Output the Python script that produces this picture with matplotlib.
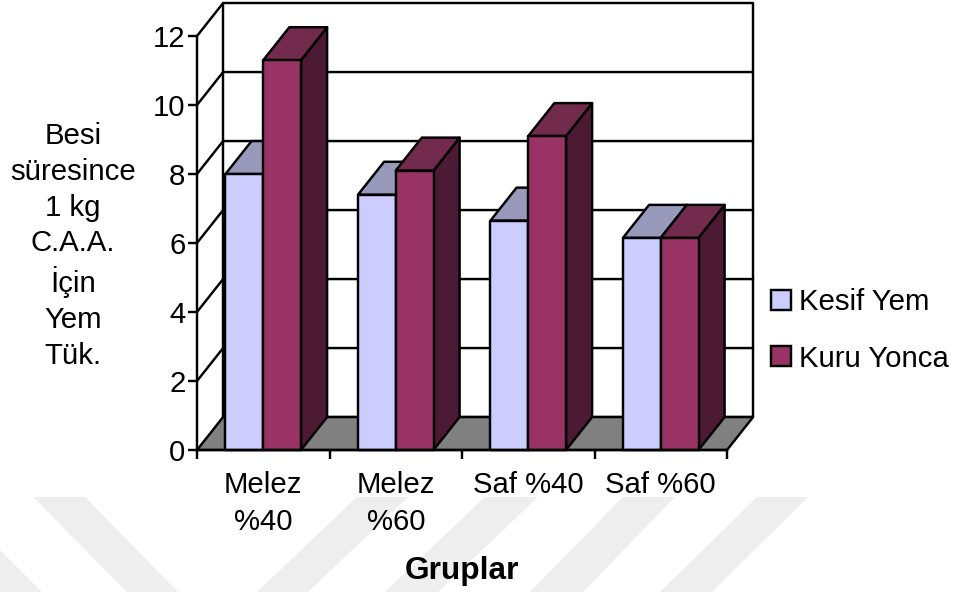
import matplotlib
matplotlib.use("Agg")
import matplotlib.pyplot as plt
from matplotlib.patches import Patch, Polygon

plt.rcParams['font.family'] = ['Liberation Sans', 'DejaVu Sans']

groups = ["Melez\n%40", "Melez\n%60", "Saf %40", "Saf %60"]
kesif_yem = [8.0, 7.4, 6.65, 6.15]
kuru_yonca = [11.3, 8.1, 9.1, 6.15]
series_names = ["Kesif Yem", "Kuru Yonca"]
y_ticks = [0, 2, 4, 6, 8, 10, 12]

W, H = 957, 592
LW = 1.75
FS = 21.2
DX = 0.197   # depth of the 3d box, x units
DY = 0.955   # depth of the 3d box, y units
BAR_W = 0.285
BAR_START = 0.215

KESIF = ("#ccccff", "#9999bb", "#666680")  # front, top, side
KURU = ("#993366", "#732b4d", "#4d1a33")

fig = plt.figure(figsize=(W / 100, H / 100), dpi=100, facecolor="white")

# pale diagonal bands behind the chart
bands = [
    [(0, 550), (42, 592), (0, 592)],
    [(33, 497), (85, 497), (178, 592), (127, 592)],
    [(357, 497), (408, 497), (308, 592), (257, 592)],
    [(485, 497), (538, 497), (438, 592), (385, 592)],
    [(623, 497), (675, 497), (583, 592), (530, 592)],
    [(757, 497), (808, 497), (712, 592), (660, 592)],
]
for b in bands:
    pts = [(x / W, 1 - y / H) for x, y in b]
    fig.patches.append(Polygon(pts, closed=True, facecolor="#eeeeee", edgecolor="none",
                               transform=fig.transFigure, zorder=-5))

ax = fig.add_axes([197 / W, (H - 450) / H, 530 / W, 414 / H])
ax.patch.set_alpha(0)
ax.set_xlim(0, len(groups))
ax.set_ylim(0, 12)


def poly(pts, color, z):
    ax.add_patch(Polygon(pts, closed=True, facecolor=color, edgecolor="black", linewidth=LW,
                         joinstyle="round", clip_on=False, zorder=z))


def line(xs, ys, z=2):
    ax.plot(xs, ys, color="black", lw=LW, clip_on=False, zorder=z, solid_capstyle="round")


def bar3d(x, v, cols, z):
    poly([(x + BAR_W, 0), (x + BAR_W + DX, DY), (x + BAR_W + DX, v + DY), (x + BAR_W, v)], cols[2], z)
    poly([(x, v), (x + DX, v + DY), (x + BAR_W + DX, v + DY), (x + BAR_W, v)], cols[1], z)
    poly([(x, 0), (x + BAR_W, 0), (x + BAR_W, v), (x, v)], cols[0], z)


n = len(groups)
ymax = y_ticks[-1]

# back wall, floor and the lines running around the box
poly([(DX, DY), (n + DX, DY), (n + DX, ymax + DY), (DX, ymax + DY)], "white", 1)
for t in y_ticks[1:-1]:
    line([0, DX, n + DX], [t, t + DY, t + DY])
line([0, DX], [ymax, ymax + DY])
poly([(0, 0), (n, 0), (n + DX, DY), (DX, DY)], "#808080", 3)

for i in range(n):
    bar3d(i + BAR_START, kesif_yem[i], KESIF, 4 + i * 2)
    bar3d(i + BAR_START + BAR_W, kuru_yonca[i], KURU, 5 + i * 2)

for s in ("top", "right"):
    ax.spines[s].set_visible(False)
for s in ("left", "bottom"):
    ax.spines[s].set_linewidth(LW)
    ax.spines[s].set_zorder(20)

ax.set_yticks(y_ticks)
ax.set_xticks(range(n + 1))
ax.set_xticklabels([])
ax.tick_params(axis="both", which="major", length=6.8, width=LW, labelsize=FS, pad=1.5)

ax.set_xticks([i + 0.5 for i in range(n)], minor=True)
ax.set_xticklabels(groups, minor=True, fontsize=FS, va="top", linespacing=1.42)
ax.tick_params(axis="x", which="minor", length=0, pad=15)

fig.text(73 / W, 1 - 246 / H, "Besi\nsüresince\n1 kg\nC.A.A.\nİçin\nYem\nTük.",
         fontsize=FS, ha="center", va="center", linespacing=1.35)
fig.text(462 / W, 1 - 571 / H, "Gruplar", fontsize=22.8, fontweight="bold", ha="center", va="center")

handles = [Patch(facecolor=KESIF[0], edgecolor="black", linewidth=LW),
           Patch(facecolor=KURU[0], edgecolor="black", linewidth=LW)]
fig.legend(handles, series_names, loc="upper left", bbox_to_anchor=(771 / W, 1 - 288 / H),
           borderaxespad=0, borderpad=0, frameon=False, fontsize=FS,
           handlelength=0.68, handleheight=0.68, handletextpad=0.27, labelspacing=0.97)

fig.savefig("out.png", dpi=100)
